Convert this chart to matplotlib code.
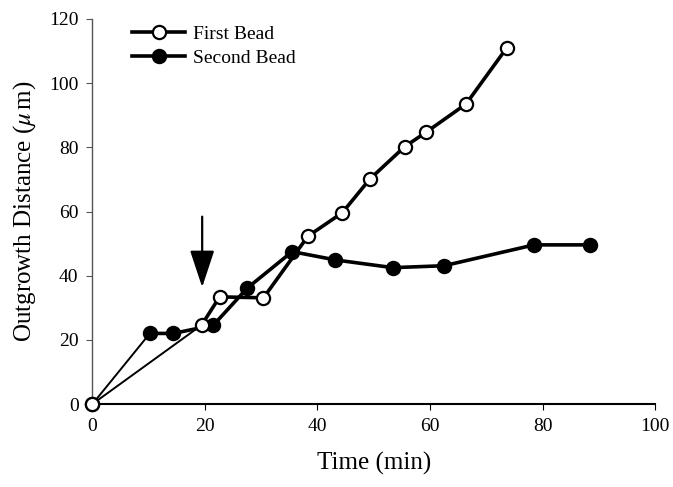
import matplotlib
matplotlib.use("Agg")
import matplotlib.pyplot as plt
from matplotlib.lines import Line2D

plt.rcParams['font.family'] = ['Liberation Serif', 'DejaVu Serif']
plt.rcParams['mathtext.fontset'] = 'stix'

first_x = [0, 19.4, 22.6, 30.4, 38.3, 44.4, 49.3, 55.5, 59.3, 66.4, 73.6]
first_y = [0, 24.6, 33.4, 33.1, 52.3, 59.6, 70.1, 80.2, 84.7, 93.5, 110.9]
second_x = [0, 10.2, 14.4, 21.5, 27.5, 35.5, 43.2, 53.4, 62.5, 78.5, 88.5]
second_y = [0, 22.0, 22.0, 24.6, 36.1, 47.5, 44.9, 42.5, 43.1, 49.6, 49.6]
xticks = [0, 20, 40, 60, 80, 100]
yticks = [0, 20, 40, 60, 80, 100, 120]
arrow_x = 19.5
arrow_from = 58.4
arrow_to = 36.4

fig = plt.figure(figsize=(6.73, 4.87), dpi=100)
ax = fig.add_axes([0.1374, 0.1704, 0.9733 - 0.1374, 0.961 - 0.1704])

lw_thin = 1.4
lw = 2.6
ms = 9.5
mew = 1.6

# first segments (thinner)
ax.plot(first_x[:2], first_y[:2], color='black', lw=lw_thin, zorder=2, clip_on=False)
ax.plot(second_x[:2], second_y[:2], color='black', lw=lw_thin, zorder=2, clip_on=False)
# remaining segments
ax.plot(second_x[1:], second_y[1:], color='black', lw=lw, zorder=2)
ax.plot(first_x[1:], first_y[1:], color='black', lw=lw, zorder=2)
# markers
ax.plot(second_x, second_y, linestyle='none', marker='o', ms=ms, mfc='black',
        mec='black', mew=mew, zorder=3, clip_on=False)
ax.plot(first_x, first_y, linestyle='none', marker='o', ms=ms, mfc='white',
        mec='black', mew=mew, zorder=4, clip_on=False)

ax.annotate('', xy=(arrow_x, arrow_to), xytext=(arrow_x, arrow_from),
            arrowprops=dict(arrowstyle='-|>,head_length=2.3,head_width=0.76',
                            color='black', lw=1.6, shrinkA=0, shrinkB=0))

ax.set_xlim(0, 100)
ax.set_ylim(0, 120)
ax.set_xticks(xticks)
ax.set_yticks(yticks)
ax.tick_params(axis='both', direction='out', length=4, labelsize=14, pad=6)
ax.tick_params(axis='y', color='#555555')
for s in ['top', 'right']:
    ax.spines[s].set_visible(False)
ax.spines['left'].set_color('#555555')
ax.spines['left'].set_linewidth(1.0)
ax.spines['bottom'].set_linewidth(1.5)
ax.spines['bottom'].set_color('black')

ax.set_xlabel('Time (min)', fontsize=18, labelpad=12)
ax.set_ylabel(r'Outgrowth Distance ($\mu\,$m)', fontsize=18, labelpad=8)

h1 = Line2D([], [], color='black', lw=lw, marker='o', ms=ms, mfc='white', mec='black', mew=mew)
h2 = Line2D([], [], color='black', lw=lw, marker='o', ms=ms, mfc='black', mec='black', mew=mew)
ax.legend([h1, h2], ['First Bead', 'Second Bead'], loc='upper left',
          bbox_to_anchor=(0.04, 1.03), frameon=False, fontsize=14,
          handlelength=2.7, handletextpad=0.4, labelspacing=0.35)

fig.savefig('out.png', dpi=100)
